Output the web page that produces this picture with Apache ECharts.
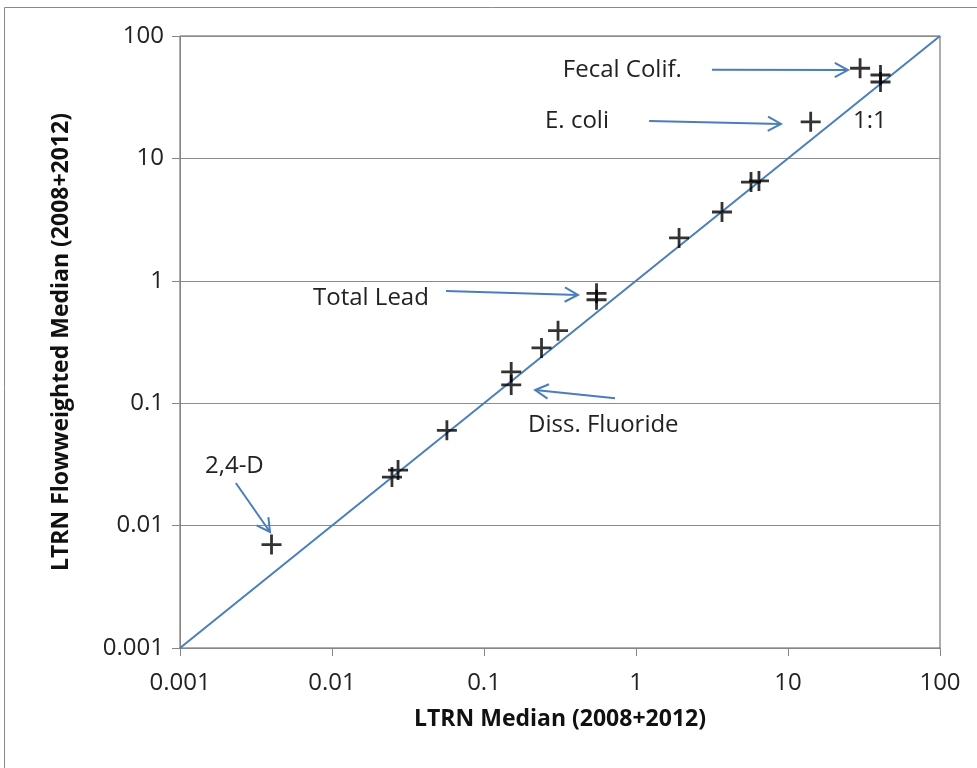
<!DOCTYPE html>
<html>
<head>
<meta charset="utf-8">
<script src="https://cdn.jsdelivr.net/npm/echarts@6/dist/echarts.min.js"></script>
<style>
  html, body { margin: 0; padding: 0; background: #fff; }
  #echart { width: 977px; height: 768px; }
</style>
</head>
<body>
<div id="echart"></div>
<script>
// LTRN median (x) vs flow-weighted median (y)
var ltrnMedian   = [0.004, 0.0248, 0.0272, 0.057, 0.151, 0.151, 0.239, 0.307, 0.55, 0.55, 1.92, 3.68, 5.71, 6.44, 14.1, 29.8, 40.6, 40.6];
var flowWeighted = [0.007, 0.0249, 0.0284, 0.060, 0.18, 0.141, 0.283, 0.391, 0.79, 0.70, 2.24, 3.65, 6.41, 6.54, 19.9, 54.5, 48, 42.1];

// 1:1 reference line
var oneToOne = [[0.001, 0.001], [100, 100]];

var tickLabels = ['0.001', '0.01', '0.1', '1', '10', '100'];

// annotations: text anchor + arrow tail/head, in data units
var notes = [
	{ text: 'Fecal Colif.',   at: [0.33, 53],    from: [3.16, 53],    to: [24.8, 52.7] },
	{ text: 'E. coli',        at: [0.252, 20],   from: [1.22, 20.2],  to: [9.0, 19.1] },
	{ text: 'Total Lead',     at: [0.0075, 0.72], from: [0.0562, 0.826], to: [0.415, 0.766] },
	{ text: 'Diss. Fluoride', at: [0.195, 0.0664], from: [0.728, 0.110], to: [0.217, 0.128] },
	{ text: '2,4-D',          at: [0.00146, 0.0307], from: [0.00233, 0.0223], to: [0.00391, 0.00887] },
	{ text: '1:1',            at: [26.8, 20] }
];

var FONT = '"Open Sans", "Liberation Sans", sans-serif';
var BLUE = '#4a7ebb';

var points = [];
for (var i = 0; i < ltrnMedian.length; i++) {
	points.push([ltrnMedian[i], flowWeighted[i]]);
}

var myEchart = echarts.init(document.getElementById('echart'));

var logAxis = {
	type: 'log',
	logBase: 10,
	min: 0.001,
	max: 100,
	axisLine: { show: true, lineStyle: { color: '#868686', width: 1 } },
	axisTick: { show: true, inside: false, length: 8, lineStyle: { color: '#868686' } },
	minorTick: { show: false },
	axisLabel: {
		color: '#222',
		fontFamily: FONT,
		fontSize: 24,
		formatter: function (v) {
			var k = Math.round(Math.log(v) / Math.LN10) + 3;
			return tickLabels[k] || '';
		}
	},
	nameLocation: 'middle',
	nameTextStyle: { color: '#111', fontFamily: FONT, fontSize: 23, fontWeight: 'bold' }
};

var option = {
	animation: false,
	grid: {
		left: 180,
		right: 37,
		top: 36,
		bottom: 120,
		show: true,
		borderColor: '#5a5a5a',
		borderWidth: 1
	},
	xAxis: echarts.util.merge({
		name: 'LTRN Median (2008+2012)',
		nameGap: 60,
		splitLine: { show: false },
		axisLabel: { margin: 23 }
	}, logAxis),
	yAxis: echarts.util.merge({
		name: 'LTRN Flowweighted Median (2008+2012)',
		nameGap: 107,
		splitLine: { show: true, lineStyle: { color: '#8c8c8c', width: 1 } },
		axisLabel: { margin: 16 }
	}, logAxis),
	series: [
		{
			type: 'line',
			data: oneToOne,
			symbol: 'none',
			lineStyle: { color: BLUE, width: 2 },
			z: 2
		},
		{
			type: 'scatter',
			data: points,
			// plus-sign marker
			symbol: 'path://M8.6,0 H11.4 V8.6 H20 V11.4 H11.4 V20 H8.6 V11.4 H0 V8.6 H8.6 Z',
			symbolSize: 20,
			itemStyle: { color: '#000' },
			z: 3
		}
	]
};

myEchart.setOption(option);

// arrows and labels placed through the axes
function arrow(p, q) {
	var ang = Math.atan2(q[1] - p[1], q[0] - p[0]);
	var len = 15, spread = 0.5;
	var a1 = [q[0] - len * Math.cos(ang - spread), q[1] - len * Math.sin(ang - spread)];
	var a2 = [q[0] - len * Math.cos(ang + spread), q[1] - len * Math.sin(ang + spread)];
	return [
		{ type: 'polyline', shape: { points: [p, q] }, style: { stroke: BLUE, lineWidth: 2, fill: null }, z: 10 },
		{ type: 'polyline', shape: { points: [a1, q, a2] }, style: { stroke: BLUE, lineWidth: 2, fill: null }, z: 10 }
	];
}

var graphics = [
	{
		type: 'rect',
		shape: { x: 4.5, y: 7.5, width: 1000, height: 800 },
		style: { stroke: '#8a8a8a', lineWidth: 1, fill: null },
		silent: true,
		z: -1
	}
];

notes.forEach(function (n) {
	var at = myEchart.convertToPixel({ gridIndex: 0 }, n.at);
	graphics.push({
		type: 'text',
		x: at[0],
		y: at[1],
		style: {
			text: n.text,
			fill: '#222',
			font: '24px ' + FONT,
			verticalAlign: 'middle',
			align: 'left'
		},
		z: 10
	});
	if (n.from) {
		var p = myEchart.convertToPixel({ gridIndex: 0 }, n.from);
		var q = myEchart.convertToPixel({ gridIndex: 0 }, n.to);
		graphics = graphics.concat(arrow(p, q));
	}
});

myEchart.setOption({ graphic: graphics });
</script>
</body>
</html>
